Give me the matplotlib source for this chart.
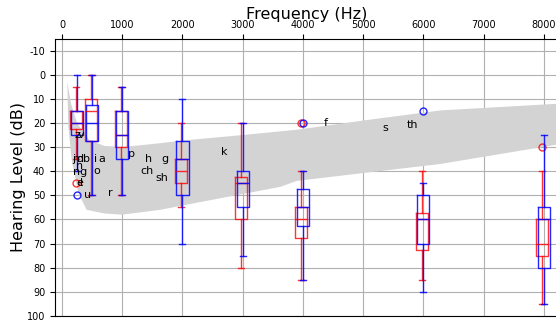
import matplotlib
matplotlib.use("Agg")
import matplotlib.pyplot as plt

plt.rcParams['axes.unicode_minus'] = False

# ---- data ----
freqs = [250, 500, 1000, 2000, 3000, 4000, 6000, 8000]

# red series box stats (dB HL)
red_q1 = [15, 10, 15, 35, 42.5, 55, 57.5, 60]
red_med = [20, 15, 25, 40, 45, 60, 60, 70]
red_q3 = [22.5, 27.5, 30, 45, 60, 67.5, 72.5, 75]
red_lo = [5, 0, 5, 20, 20, 40, 40, 40]
red_hi = [35, 50, 50, 55, 80, 85, 85, 95]
red_fliers = [[45], [], [], [], [], [20], [], [30]]

# blue series box stats (dB HL)
blue_q1 = [15, 12.5, 15, 27.5, 40, 47.5, 50, 55]
blue_med = [20, 20, 25, 35, 45, 55, 60, 60]
blue_q3 = [25, 27.5, 35, 50, 55, 62.5, 70, 80]
blue_lo = [0, 0, 5, 10, 20, 40, 45, 25]
blue_hi = [40, 50, 50, 70, 75, 85, 90, 95]
blue_fliers = [[50], [], [], [], [], [20], [15], []]

# speech banana outline (Hz, dB)
banana_hz = [88, 150, 250, 450, 700, 1000, 1630, 2000, 3000, 3900, 5000, 6280, 8400,
             8400, 6280, 3900, 3620, 2290, 1630, 1000, 700, 410, 271, 161, 105, 88]
banana_db = [3, 12, 20, 27, 29.5, 30, 28.4, 27.3, 25, 22.8, 19, 14.8, 11.8,
             28.2, 37, 44, 46.5, 52.8, 56, 58, 57.5, 56, 49, 35.3, 21.4, 3]

# phoneme labels
phon_text = ['z', 'v', 'j', 'm', 'd', 'b', 'i', 'a', 'n', 'o', 'ng', 'e', 'l', 'u',
             'r', 'p', 'h', 'g', 'ch', 'sh', 'k', 'f', 's', 'th']
phon_hz = [250, 320, 200, 280, 300, 400, 550, 660, 300, 570, 300, 300, 330, 430,
           800, 1150, 1430, 1710, 1410, 1660, 2690, 4370, 5370, 5810]
phon_db = [25, 25, 35, 35, 35, 35, 35, 35, 38, 40, 40.5, 45, 45, 50,
           49, 33, 35, 35, 40, 43, 32, 20, 22, 21]

xticks = list(range(0, 8001, 1000))
yticks = list(range(-10, 101, 10))

# ---- figure ----
fig = plt.figure(figsize=(5.56, 3.2), dpi=100)
ax = fig.add_axes([55 / 556, 1 - 316 / 320, 504 / 556, (316 - 38.5) / 320])

ax.fill(banana_hz, banana_db, color='#d3d3d3', lw=0, zorder=1)


def stats(q1, med, q3, lo, hi, fl):
    return [dict(q1=a, med=b, q3=c, whislo=d, whishi=e, fliers=f)
            for a, b, c, d, e, f in zip(q1, med, q3, lo, hi, fl)]


def draw(st, pos, col):
    ax.bxp(st, positions=pos, widths=200, manage_ticks=False,
           boxprops=dict(color=col, lw=1),
           medianprops=dict(color=col, lw=1),
           whiskerprops=dict(color=col, lw=1),
           capprops=dict(color=col, lw=1),
           flierprops=dict(marker='o', markerfacecolor='none',
                           markeredgecolor=col, markersize=5, lw=0),
           zorder=3)


draw(stats(red_q1, red_med, red_q3, red_lo, red_hi, red_fliers),
     [f - 25 for f in freqs], (1, 0, 0, 0.8))
draw(stats(blue_q1, blue_med, blue_q3, blue_lo, blue_hi, blue_fliers),
     freqs, (0, 0, 1, 0.85))

for t, x, y in zip(phon_text, phon_hz, phon_db):
    ax.text(x, y, t, ha='center', va='center', fontsize=8, zorder=4)

ax.set_xlim(-116, 8250)
ax.set_ylim(100, -15)
ax.set_xticks(xticks)
ax.set_yticks(yticks)
ax.xaxis.tick_top()
ax.xaxis.set_label_position('top')
ax.tick_params(labelsize=7, length=3.5)
ax.tick_params(axis='x', pad=2.5)
ax.set_xlabel('Frequency (Hz)', fontsize=11.5, labelpad=1)
ax.set_ylabel('Hearing Level (dB)', fontsize=11.5, labelpad=1)
ax.grid(True, color='#b0b0b0', lw=0.8, zorder=0)
ax.set_axisbelow(True)
ax.spines['right'].set_visible(False)

fig.savefig('out.png', dpi=100)
